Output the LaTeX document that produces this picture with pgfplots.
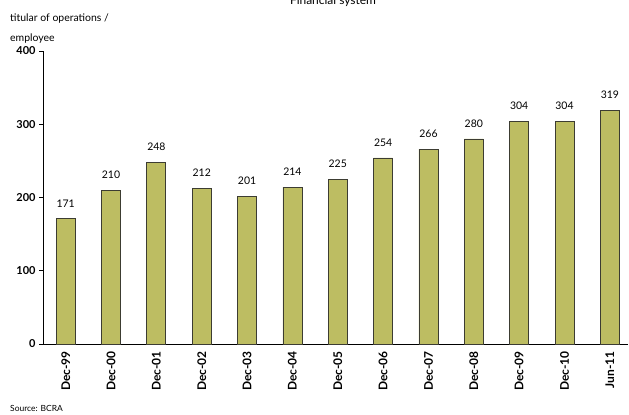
\documentclass[border=0pt]{standalone}
\usepackage{pgfplots}
\pgfplotsset{compat=1.18}
\usepackage{fontspec}
\setmainfont{Lato}
\definecolor{barfill}{RGB}{189,189,98}
\definecolor{baredge}{RGB}{60,60,50}
\begin{document}
\begin{tikzpicture}[x=1bp,y=1bp]
\useasboundingbox (0,0) rectangle (629,414);
\begin{axis}[
  scale only axis,
  width=585bp, height=293bp,
  at={(43bp,70bp)}, anchor=south west,
  ymin=0, ymax=400, xmin=-0.5, xmax=12.4,
  axis x line*=bottom, axis y line*=left,
  axis line style={black, line width=0.9pt},
  ytick={0,100,200,300,400},
  ytick align=outside,
  y tick style={black, line width=0.8pt},
  major tick length=4bp,
  xtick={0,...,12},
  xticklabels={Dec-99,Dec-00,Dec-01,Dec-02,Dec-03,Dec-04,Dec-05,Dec-06,Dec-07,Dec-08,Dec-09,Dec-10,Jun-11},
  x tick style={draw=none},
  extra x ticks={0.5,1.5,...,11.5},
  extra x tick labels={},
  extra x tick style={xtick align=inside, tick style={draw=black, line width=0.6pt}},
  x tick label style={rotate=90, anchor=east, font=\bfseries\fontsize{12}{14}\selectfont},
  y tick label style={font=\bfseries\fontsize{11}{13}\selectfont},
  /pgf/number format/assume math mode=true,
  ybar, bar width=19bp,
  nodes near coords,
  every node near coord/.append style={font=\fontsize{10.5}{12}\selectfont, black, yshift=8bp},
  clip=false,
]
\addplot[fill=barfill, draw=baredge, line width=0.8pt] coordinates {
(0,171) (1,210) (2,248) (3,212) (4,201) (5,214) (6,225) (7,254) (8,266) (9,280) (10,304) (11,304) (12,319)};
\end{axis}
\node[anchor=base west, font=\fontsize{10.5}{12}\selectfont, inner sep=0pt] at (10bp,392bp) {titular of operations /};
\node[anchor=base west, font=\fontsize{10.5}{12}\selectfont, inner sep=0pt] at (10bp,372bp) {employee};
\node[anchor=base, font=\fontsize{12}{14}\selectfont, inner sep=0pt] at (333bp,409bp) {Financial system};
\node[anchor=base west, font=\fontsize{8.5}{10}\selectfont, inner sep=0pt] at (10bp,3bp) {Source: BCRA};
\end{tikzpicture}
\end{document}
